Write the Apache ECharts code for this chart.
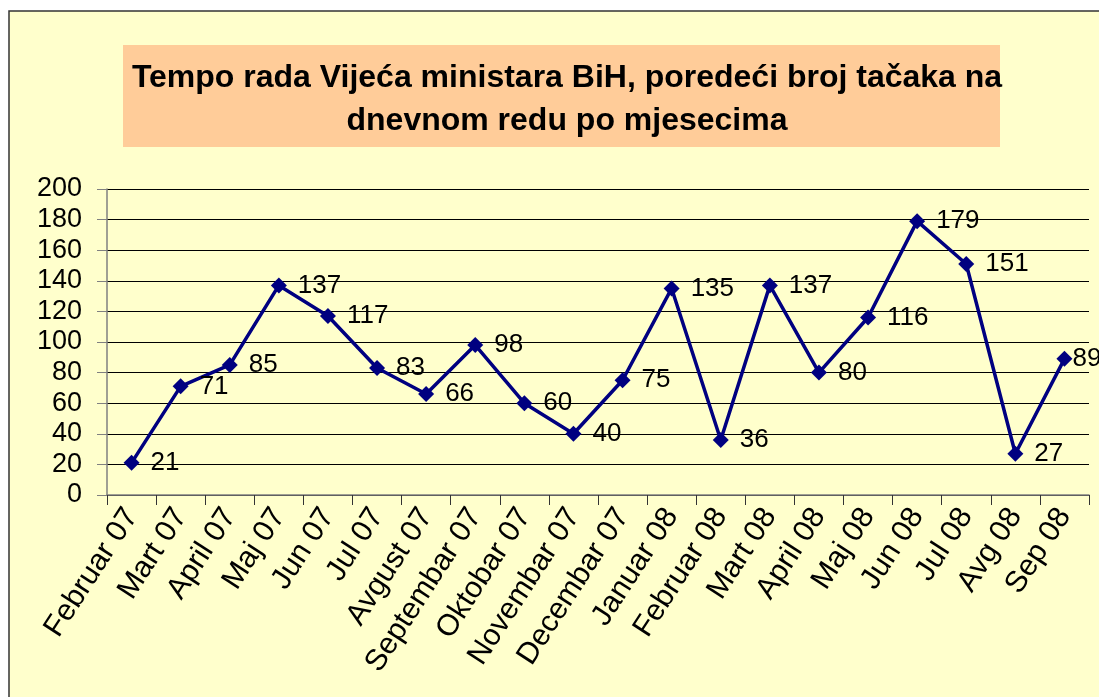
<!DOCTYPE html>
<html>
<head>
<meta charset="utf-8">
<script src="https://cdn.jsdelivr.net/npm/echarts@6/dist/echarts.min.js"></script>
<style>
    html, body { margin: 0; padding: 0; background: #ffffff; }
    #chart { width: 1099px; height: 697px; }
</style>
</head>
<body>
<div id="chart"></div>
<script>
// months on the x axis
const months = ['Februar 07', 'Mart 07', 'April 07', 'Maj 07', 'Jun 07', 'Jul 07', 'Avgust 07',
    'Septembar 07', 'Oktobar 07', 'Novembar 07', 'Decembar 07', 'Januar 08', 'Februar 08',
    'Mart 08', 'April 08', 'Maj 08', 'Jun 08', 'Jul 08', 'Avg 08', 'Sep 08'];
// number of agenda items per month
const agendaItems = [21, 71, 85, 137, 117, 83, 66, 98, 60, 40, 75, 135, 36, 137, 80, 116, 179, 151, 27, 89];
const yTicks = [0, 20, 40, 60, 80, 100, 120, 140, 160, 180, 200];

const font = '"Liberation Sans", Arial, sans-serif';
const chart = echarts.init(document.getElementById('chart'));

// last label sits tight against its marker, like in the original
const lineData = agendaItems.map((v, i) =>
    i === agendaItems.length - 1 ? { value: v, label: { distance: 0 } } : v);

chart.setOption({
    backgroundColor: 'transparent',
    animation: false,
    graphic: [
        {
            type: 'rect',
            z: -10,
            shape: { x: 9, y: 11, width: 1200, height: 800 },
            style: { fill: '#ffffcc', stroke: '#333333', lineWidth: 1.5 }
        },
        {
            type: 'rect',
            z: -5,
            shape: { x: 123, y: 45, width: 877, height: 102 },
            style: { fill: '#ffcc99' }
        }
    ],
    title: {
        text: 'Tempo rada Vijeća ministara BiH, poredeći broj tačaka na\ndnevnom redu po mjesecima',
        left: 562,
        top: 52,
        textAlign: 'center',
        textStyle: {
            fontFamily: font,
            fontSize: 32,
            fontWeight: 'bold',
            color: '#000000',
            lineHeight: 43
        }
    },
    grid: {
        left: 107,
        right: 10,
        top: 189,
        bottom: 202,
        containLabel: false
    },
    xAxis: {
        type: 'category',
        data: months,
        boundaryGap: true,
        axisLine: { lineStyle: { color: '#808080', width: 1.5 } },
        axisTick: { show: true, alignWithLabel: false, length: 10, lineStyle: { color: '#333333' } },
        axisLabel: {
            rotate: 57,
            interval: 0,
            margin: 16,
            fontFamily: font,
            fontSize: 30,
            color: '#000000'
        }
    },
    yAxis: {
        type: 'value',
        min: yTicks[0],
        max: yTicks[yTicks.length - 1],
        interval: 20,
        axisLine: { show: true, lineStyle: { color: '#808080', width: 1.5 } },
        axisTick: { show: true, inside: false, length: 10, lineStyle: { color: '#808080' } },
        axisLabel: {
            margin: 25,
            fontFamily: font,
            fontSize: 27,
            color: '#000000'
        },
        splitLine: { show: true, lineStyle: { color: '#000000', width: 1 } }
    },
    series: [
        {
            name: 'Broj tačaka',
            type: 'line',
            data: lineData,
            symbol: 'diamond',
            symbolSize: 16,
            lineStyle: { color: '#000080', width: 3.5 },
            itemStyle: { color: '#000080' },
            label: {
                show: true,
                position: 'right',
                distance: 11,
                fontFamily: font,
                fontSize: 26,
                color: '#000000'
            }
        }
    ]
});
</script>
</body>
</html>
